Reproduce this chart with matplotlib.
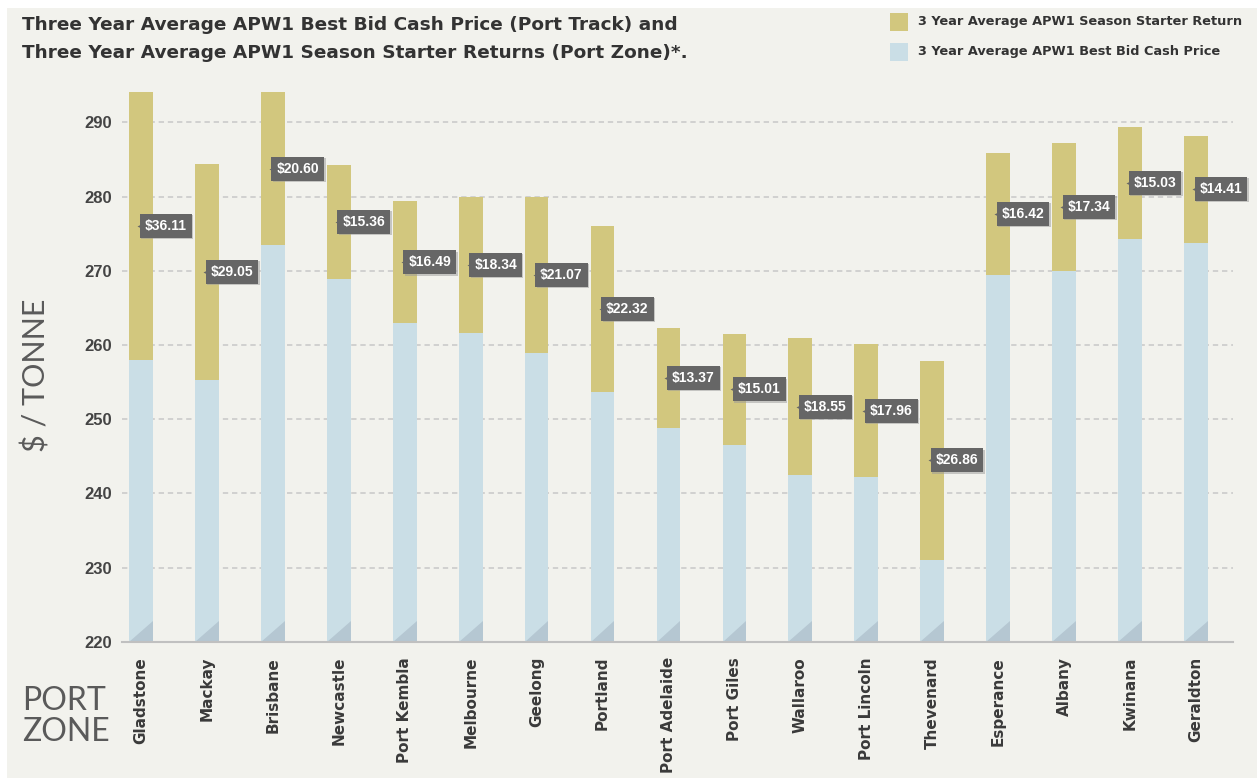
import numpy as np
import matplotlib
matplotlib.use("Agg")
import matplotlib.pyplot as plt
from matplotlib.patches import Rectangle, Polygon
from matplotlib import patheffects as pe

# --- data ---
ports = ["Gladstone", "Mackay", "Brisbane", "Newcastle", "Port Kembla", "Melbourne",
         "Geelong", "Portland", "Port Adelaide", "Port Giles", "Wallaroo", "Port Lincoln",
         "Thevenard", "Esperance", "Albany", "Kwinana", "Geraldton"]
best_bid = [258.0, 255.3, 273.45, 268.9, 262.9, 261.6, 258.9, 253.7, 248.85, 246.5,
            242.4, 242.15, 231.0, 269.45, 269.9, 274.3, 273.8]
season_starter = [36.11, 29.05, 20.60, 15.36, 16.49, 18.34, 21.07, 22.32, 13.37, 15.01,
                  18.55, 17.96, 26.86, 16.42, 17.34, 15.03, 14.41]
yticks = [220, 230, 240, 250, 260, 270, 280, 290]

title_lines = ["Three Year Average APW1 Best Bid Cash Price (Port Track) and",
               "Three Year Average APW1 Season Starter Returns (Port Zone)*."]
legend_labels = ["3 Year Average APW1 Season Starter Return",
                 "3 Year Average APW1 Best Bid Cash Price"]

# --- style ---
BG = "#f2f2ed"
OLIVE = "#d2c77e"
BLUE = "#cadee6"
TRI = "#b5c7d2"
BOX = "#666666"
TXT = "#333333"
FONT = "Liberation Sans"
WIDE = "DejaVu Sans"
THIN = "Lato"

W, H = 1257, 778
fig = plt.figure(figsize=(W / 100, H / 100), dpi=100, facecolor="white")
fig.patches.append(Rectangle((7 / W, 0), 1, 1 - 8 / H, transform=fig.transFigure,
                             facecolor=BG, edgecolor="none", zorder=-10))

ax = fig.add_axes([121.7 / W, 136.3 / H, 1111 / W, 564 / H])
ax.set_facecolor("none")

x = np.arange(len(ports))
bw = 0.36
bb = np.array(best_bid)
ss = np.array(season_starter)

ax.bar(x, bb, width=bw, color=BLUE, zorder=2)
ax.bar(x, ss, bottom=bb, width=bw, color=OLIVE, zorder=2)

ymin = 220
for xi in x:
    ax.add_patch(Polygon([(xi - bw / 2, ymin), (xi + bw / 2, ymin), (xi + bw / 2, ymin + 2.85)],
                         closed=True, facecolor=TRI, edgecolor="none", zorder=3))

# value tags
for xi, b, s in zip(x, bb, ss):
    mid = b + s / 2
    t = ax.annotate(f"${s:.2f}", xy=(xi, mid), xytext=(2.6, 0), textcoords="offset points",
                    ha="left", va="center", fontsize=10, fontweight="bold", color="white",
                    family=FONT, zorder=6,
                    bbox=dict(boxstyle="square,pad=0.36", facecolor=BOX, edgecolor="none"))
    t.get_bbox_patch().set_path_effects([pe.withSimplePatchShadow(offset=(1, -1), shadow_rgbFace="#999999", alpha=0.5)])
    ax.plot(xi, mid, marker="<", ms=6, color=BOX, mec="none", zorder=6)

ax.set_xlim(-0.293, len(ports) - 1 + 0.557)
ax.set_ylim(ymin, ymin + 564 / 7.42)
ax.set_yticks(yticks)
ax.set_yticklabels([str(v) for v in yticks], fontsize=12, fontweight="bold", color="#444444", family=FONT)
ax.set_xticks(x)
ax.set_xticklabels(ports, rotation=90, fontsize=11, fontweight="bold", color="#3a3a3a", family=WIDE,
                   va="top", ha="center")
ax.tick_params(axis="both", length=0)
ax.tick_params(axis="y", pad=7)
ax.tick_params(axis="x", pad=11)

for yv in yticks[1:]:
    ax.axhline(yv, color="#c8c8c8", lw=1.1, ls=(0, (3.5, 2.5)), zorder=1)

for sp in ["top", "right", "left"]:
    ax.spines[sp].set_visible(False)
ax.spines["bottom"].set_color("#c0c0c0")
ax.spines["bottom"].set_linewidth(1.5)
ax.spines["bottom"].set_zorder(4)

# axis labels
fig.text(36 / W, 1 - 375 / H, "$ / TONNE", rotation=90, ha="center", va="center",
         fontsize=22, color="#5a5a5a", family=THIN)
fig.text(22 / W, 1 - 710 / H, "PORT", ha="left", va="baseline",
         fontsize=23, color="#5a5a5a", family=THIN)
fig.text(22 / W, 1 - 741 / H, "ZONE", ha="left", va="baseline",
         fontsize=23, color="#5a5a5a", family=THIN)

# title
fig.text(22 / W, 1 - 30 / H, title_lines[0], ha="left", va="baseline", fontsize=13.3,
         fontweight="bold", color=TXT, family=WIDE)
fig.text(22 / W, 1 - 58 / H, title_lines[1], ha="left", va="baseline", fontsize=13.3,
         fontweight="bold", color=TXT, family=WIDE)

# legend
for j, (lab, col) in enumerate(zip(legend_labels, [OLIVE, BLUE])):
    y0 = 13 + 29.5 * j
    fig.patches.append(Rectangle((890 / W, 1 - (y0 + 18) / H), 18 / W, 18 / H,
                                 transform=fig.transFigure, facecolor=col, edgecolor="none"))
    fig.text(918 / W, 1 - (y0 + 9) / H, lab, ha="left", va="center", fontsize=9.3,
             fontweight="bold", color=TXT, family=WIDE)

fig.savefig("out.png", dpi=100, facecolor=fig.get_facecolor())
plt.close(fig)
